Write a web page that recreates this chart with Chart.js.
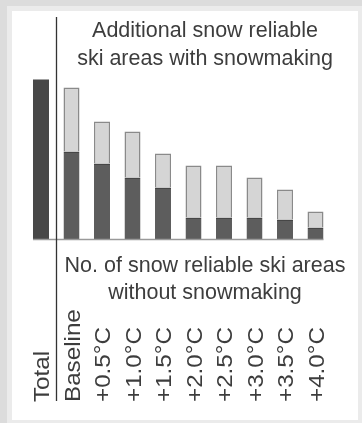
<!DOCTYPE html>
<html><head><meta charset="utf-8">
<script src="https://cdn.jsdelivr.net/npm/chart.js@4/dist/chart.umd.min.js"></script>
<style>html,body{margin:0;padding:0;background:#dcdcdc;}canvas{display:block;}</style>
</head><body>
<canvas id="c" width="362" height="423"></canvas>
<script>
const categories = ["Total","Baseline","+0.5°C","+1.0°C","+1.5°C","+2.0°C","+2.5°C","+3.0°C","+3.5°C","+4.0°C"];
const totalAreas = [80,null,null,null,null,null,null,null,null,null];
const withoutSnowmaking = [null,44,38,31,26,11,11,11,10,6];
const additionalWithSnowmaking = [null,32,21,23,17,26,26,20,15,8];
const titleLines = ["Additional snow reliable","ski areas with snowmaking"];
const bottomLines = ["No. of snow reliable ski areas","without snowmaking"];

const decor = {
  id: 'decor',
  beforeDraw(chart) {
    const ctx = chart.ctx;
    ctx.save();
    ctx.fillStyle = '#dcdcdc'; ctx.fillRect(0,0,362,423);
    ctx.fillStyle = '#ebebeb'; ctx.fillRect(7,6,355,417);
    ctx.fillStyle = '#ffffff'; ctx.fillRect(12,11,346,409);
    ctx.restore();
  },
  afterDatasetsDraw(chart) {
    const ctx = chart.ctx, xs = chart.scales.x, ys = chart.scales.y;
    ctx.save();
    const first = chart.getDatasetMeta(0).data[0];
    const last = chart.getDatasetMeta(1).data[categories.length-1];
    const y0 = ys.getPixelForValue(0);
    ctx.strokeStyle = '#9a9a9a'; ctx.lineWidth = 1.5;
    ctx.beginPath(); ctx.moveTo(first.x - first.width/2, y0); ctx.lineTo(last.x + last.width/2, y0); ctx.stroke();
    const xd = Math.round((xs.getPixelForValue(0) + xs.getPixelForValue(1))/2) + 0.5;
    ctx.strokeStyle = '#333'; ctx.lineWidth = 1.3;
    ctx.beginPath(); ctx.moveTo(xd, 17); ctx.lineTo(xd, 401); ctx.stroke();

    ctx.fillStyle = '#3d3d3d';
    ctx.font = '21.5px "Liberation Sans", Arial, sans-serif';
    ctx.textAlign = 'center'; ctx.textBaseline = 'alphabetic';
    ctx.fillText(titleLines[0], 205, 37);
    ctx.fillText(titleLines[1], 205, 65);
    ctx.fillText(bottomLines[0], 205, 272);
    ctx.fillText(bottomLines[1], 205, 299);

    ctx.font = '22px "Liberation Sans", Arial, sans-serif';
    ctx.textAlign = 'left';
    categories.forEach((c, i) => {
      const cx = xs.getPixelForValue(i);
      ctx.save();
      ctx.translate(cx + 8, 402);
      ctx.rotate(-Math.PI/2);
      ctx.scale(1.1, 1);
      ctx.fillText(c, 0, 0);
      ctx.restore();
    });
    ctx.restore();
  }
};

new Chart(document.getElementById('c'), {
  type: 'bar',
  data: {
    labels: categories,
    datasets: [
      { label: 'Total', data: totalAreas, backgroundColor: '#474747', borderWidth: 0, stack: 's' },
      { label: 'Without snowmaking', data: withoutSnowmaking, backgroundColor: '#5d5d5d', borderColor: '#464646', borderWidth: { top: 1.5, left: 0, right: 0, bottom: 0 }, borderSkipped: false, stack: 's' },
      { label: 'Additional with snowmaking', data: additionalWithSnowmaking, backgroundColor: '#d5d5d5', borderColor: '#8a8a8a', borderWidth: 1.5, borderSkipped: 'bottom', stack: 's' }
    ]
  },
  options: {
    responsive: false,
    devicePixelRatio: 1,
    animation: false,
    layout: { padding: { left: 25.75, right: 31.25, top: 75.5, bottom: 183.5 } },
    datasets: { bar: { barPercentage: 0.525, categoryPercentage: 1, inflateAmount: 0 } },
    scales: {
      x: { display: false, stacked: true },
      y: { display: false, stacked: true, min: 0, max: 82 }
    },
    plugins: { legend: { display: false }, tooltip: { enabled: false }, title: { display: false } }
  },
  plugins: [decor]
});
</script>
</body></html>
